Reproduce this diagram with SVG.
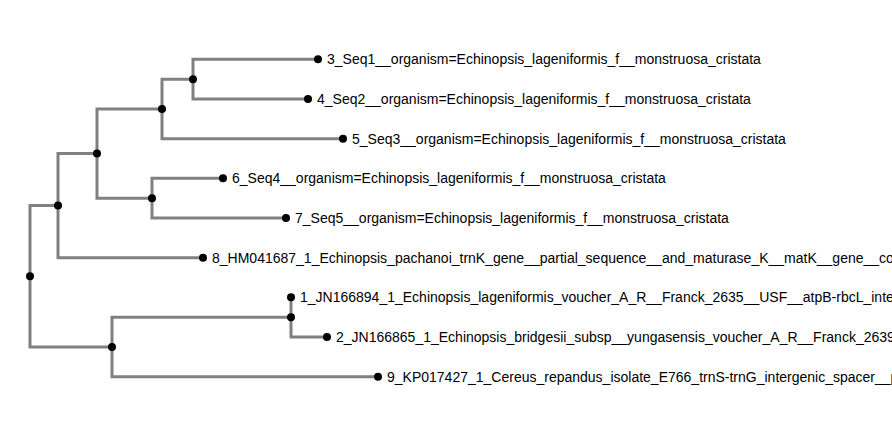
<svg xmlns="http://www.w3.org/2000/svg" width="892" height="427" viewBox="0 0 892 427">
<style>
.link{fill:none;stroke:#808080;stroke-width:3}
.node circle{fill:#000}
.node text{font-family:"Liberation Sans",Arial,sans-serif;font-size:14px;fill:#000}
</style>
<rect width="892" height="427" fill="#fff"/>
<g id="connectors">
<path class="link" d="M30,276.3V205.6H58"/>
<path class="link" d="M30,276.3V347H112"/>
<path class="link" d="M58,205.6V153.6H97"/>
<path class="link" d="M58,205.6V257.7H203"/>
<path class="link" d="M97,153.6V109H162"/>
<path class="link" d="M97,153.6V198.2H152"/>
<path class="link" d="M162,109V79.2H193"/>
<path class="link" d="M162,109V138.7H343"/>
<path class="link" d="M193,79.2V59.3H318"/>
<path class="link" d="M193,79.2V99H308"/>
<path class="link" d="M152,198.2V178.3H223"/>
<path class="link" d="M152,198.2V218H286"/>
<path class="link" d="M112,347V317.2H291"/>
<path class="link" d="M112,347V376.7H378"/>
<path class="link" d="M291,317.2V297.3H291"/>
<path class="link" d="M291,317.2V337H327"/>
</g>
<g id="n-root" class="node"><circle cx="30" cy="276.3" r="4"/></g>
<g id="n-E" class="node"><circle cx="58" cy="205.6" r="4"/></g>
<g id="n-C" class="node"><circle cx="97" cy="153.6" r="4"/></g>
<g id="n-B" class="node"><circle cx="162" cy="109" r="4"/></g>
<g id="n-A" class="node"><circle cx="193" cy="79.2" r="4"/></g>
<g id="n-D" class="node"><circle cx="152" cy="198.2" r="4"/></g>
<g id="n-F" class="node"><circle cx="112" cy="347" r="4"/></g>
<g id="n-G" class="node"><circle cx="291" cy="317.2" r="4"/></g>
<g id="leaf3" class="node"><circle cx="318" cy="59.3" r="4"/><text x="327" y="59.3" dy="0.35em">3_Seq1__organism=Echinopsis_lageniformis_f__monstruosa_cristata</text></g>
<g id="leaf4" class="node"><circle cx="308" cy="99" r="4"/><text x="317" y="99" dy="0.35em">4_Seq2__organism=Echinopsis_lageniformis_f__monstruosa_cristata</text></g>
<g id="leaf5" class="node"><circle cx="343" cy="138.7" r="4"/><text x="352" y="138.7" dy="0.35em">5_Seq3__organism=Echinopsis_lageniformis_f__monstruosa_cristata</text></g>
<g id="leaf6" class="node"><circle cx="223" cy="178.3" r="4"/><text x="232" y="178.3" dy="0.35em">6_Seq4__organism=Echinopsis_lageniformis_f__monstruosa_cristata</text></g>
<g id="leaf7" class="node"><circle cx="286" cy="218" r="4"/><text x="295" y="218" dy="0.35em">7_Seq5__organism=Echinopsis_lageniformis_f__monstruosa_cristata</text></g>
<g id="leaf8" class="node"><circle cx="203" cy="257.7" r="4"/><text x="212" y="257.7" dy="0.35em">8_HM041687_1_Echinopsis_pachanoi_trnK_gene__partial_sequence__and_maturase_K__matK__gene__complete_cds</text></g>
<g id="leaf1" class="node"><circle cx="291" cy="297.3" r="4"/><text x="300" y="297.3" dy="0.35em">1_JN166894_1_Echinopsis_lageniformis_voucher_A_R__Franck_2635__USF__atpB-rbcL_intergenic_spacer__partial_sequence</text></g>
<g id="leaf2" class="node"><circle cx="327" cy="337" r="4"/><text x="336" y="337" dy="0.35em">2_JN166865_1_Echinopsis_bridgesii_subsp__yungasensis_voucher_A_R__Franck_2639__USF__atpB-rbcL_intergenic_spacer__partial_sequence</text></g>
<g id="leaf9" class="node"><circle cx="378" cy="376.7" r="4"/><text x="387" y="376.7" dy="0.35em">9_KP017427_1_Cereus_repandus_isolate_E766_trnS-trnG_intergenic_spacer__partial_sequence</text></g>
</svg>
